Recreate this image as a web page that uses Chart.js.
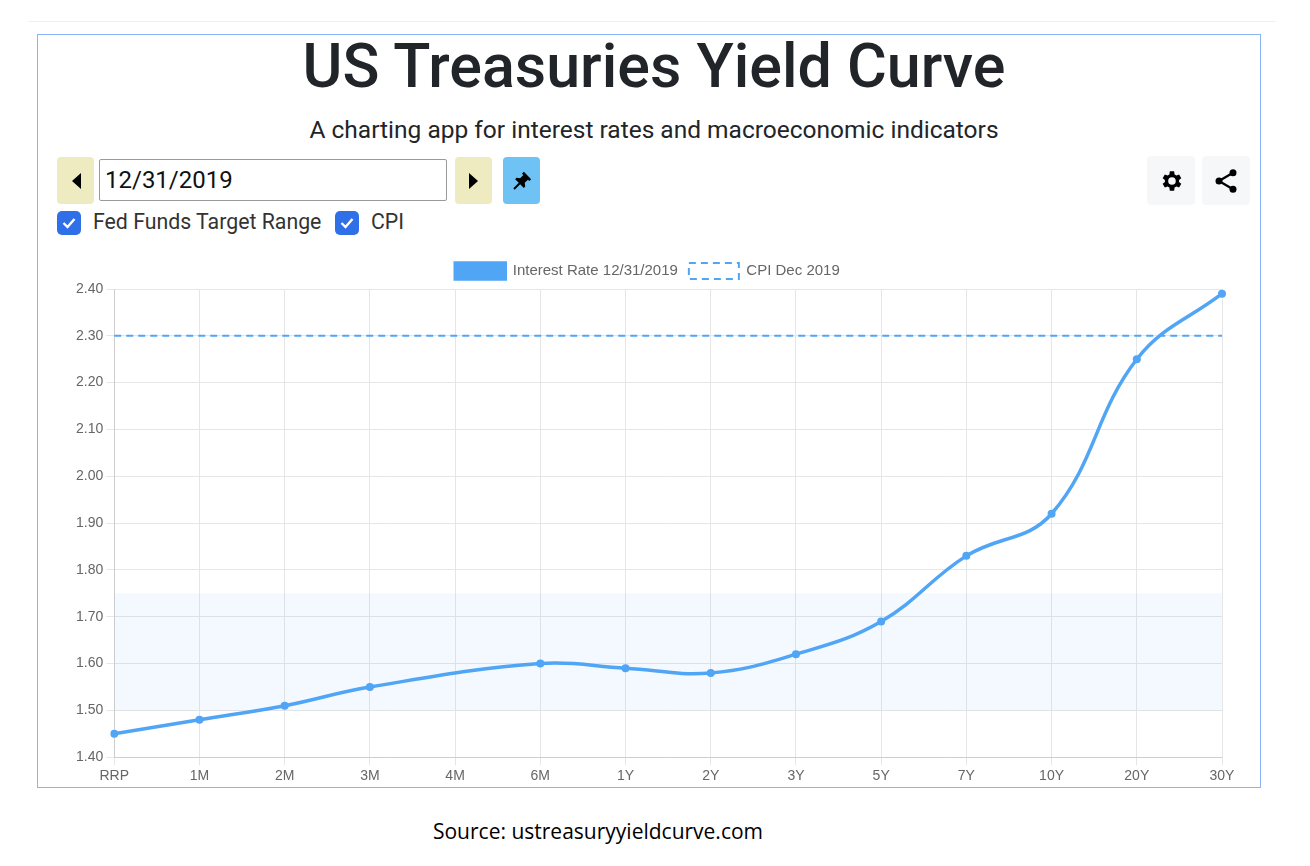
<!DOCTYPE html>
<html lang="en">
<head>
  <meta charset="UTF-8" />
  <title>US Treasuries Yield Curve</title>
  <script src="https://cdn.jsdelivr.net/npm/chart.js"></script>
  <style>
    html, body { margin: 0; padding: 0; background: #fff; }
    body { width: 1310px; height: 866px; position: relative; overflow: hidden; font-family: Roboto, "Noto Sans", sans-serif; }
    .topline { position: absolute; left: 28px; top: 21px; width: 1248px; height: 1px; background: #eef0f2; }
    .frame { position: absolute; left: 37px; top: 34px; width: 1224px; height: 754px; border: 1px solid #8ab4f8; box-sizing: border-box; }
    h1 { position: absolute; left: 0; width: 1308px; top: 30px; margin: 0; text-align: center; font-size: 61px; font-weight: 500; color: #212529; }
    .sub { position: absolute; left: 0; width: 1308px; top: 115px; text-align: center; font-size: 24.5px; color: #212529; }
    .btn { position: absolute; top: 157px; height: 47px; border-radius: 4px; display: flex; align-items: center; justify-content: center; }
    .yellow { background: #efebc0; width: 37px; }
    .pin { background: #6ec3f4; width: 37px; }
    .grey { background: #f6f7f8; width: 48px; top: 156px; height: 49px; }
    .date { position: absolute; left: 99px; top: 159px; width: 348px; height: 42px; border: 1px solid #9a9a9a; border-radius: 2px; box-sizing: border-box; font-size: 24px; color: #111; padding-left: 5px; line-height: 40px; }
    .chk { position: absolute; top: 211px; width: 24px; height: 24px; border-radius: 5px; background: #2f6fe8; display: flex; align-items: center; justify-content: center; }
    .lbl { position: absolute; top: 209px; font-size: 21.3px; color: #333; }
    .chartbox { position: absolute; left: 40px; top: 252px; width: 1220px; height: 538px; }
    .source { position: absolute; left: 0; width: 1196px; top: 817px; text-align: center; font-family: "Open Sans", sans-serif; font-size: 21px; color: #000; }
  </style>
</head>
<body>
  <div class="topline"></div>
  <div class="frame"></div>
  <h1>US Treasuries Yield Curve</h1>
  <div class="sub">A charting app for interest rates and macroeconomic indicators</div>

  <div class="btn yellow" style="left:57px;">
    <svg width="12" height="18" viewBox="0 0 12 18"><path d="M11 1 L2 9 L11 17 Z" fill="#000"/></svg>
  </div>
  <div class="date">12/31/2019</div>
  <div class="btn yellow" style="left:455px;">
    <svg width="12" height="18" viewBox="0 0 12 18"><path d="M1 1 L10 9 L1 17 Z" fill="#000"/></svg>
  </div>
  <div class="btn pin" style="left:503px;">
    <svg width="22" height="22" viewBox="0 0 24 24"><path d="M14 2 L22 10 L20 12 L18.5 10.5 L15 14 L15.5 18 L14 19.5 L10 15.5 L4 21.5 L2.5 20 L8.5 14 L4.5 10 L6 8.5 L10 9 L13.5 5.5 L12 4 Z" fill="#000"/></svg>
  </div>
  <div class="btn grey" style="left:1147px;">
    <svg width="26" height="26" viewBox="0 0 24 24"><path fill="#000" d="M19.4 13a7.6 7.6 0 0 0 0-2l2.1-1.6-2-3.5-2.5 1a7.5 7.5 0 0 0-1.7-1L14.9 3h-4l-.4 2.9a7.5 7.5 0 0 0-1.700 1l-2.5-1-2 3.5L6.4 11a7.6 7.6 0 0 0 0 2l-2.1 1.6 2 3.5 2.5-1c.5.4 1.1.8 1.7 1l.4 2.9h4l.4-2.900c.6-.2 1.2-.6 1.7-1l2.5 1 2-3.5zM12.9 15.5a3.5 3.5 0 1 1 0-7 3.5 3.5 0 0 1 0 7z"/></svg>
  </div>
  <div class="btn grey" style="left:1202px;">
    <svg width="28" height="28" viewBox="0 0 24 24"><g fill="#000"><circle cx="18" cy="5" r="3"/><circle cx="6" cy="12" r="3"/><circle cx="18" cy="19" r="3"/></g><path d="M18 5 L6 12 L18 19" stroke="#000" stroke-width="2" fill="none"/></svg>
  </div>

  <div class="chk" style="left:57px;"><svg width="14" height="12" viewBox="0 0 14 12"><path d="M1.5 6 L5.5 10 L12.5 2" stroke="#fff" stroke-width="2.4" fill="none"/></svg></div>
  <div class="lbl" style="left:93px;">Fed Funds Target Range</div>
  <div class="chk" style="left:335px;"><svg width="14" height="12" viewBox="0 0 14 12"><path d="M1.5 6 L5.5 10 L12.5 2" stroke="#fff" stroke-width="2.4" fill="none"/></svg></div>
  <div class="lbl" style="left:371px;">CPI</div>

  <div class="chartbox"><canvas id="yieldChart"></canvas></div>

  <div class="source">Source: ustreasuryyieldcurve.com</div>

  <script>
    // maturities on the x axis
    const maturities = ["RRP", "1M", "2M", "3M", "4M", "6M", "1Y", "2Y", "3Y", "5Y", "7Y", "10Y", "20Y", "30Y"];
    // yields on 12/31/2019 (no 4M quote that day)
    const yields = [1.45, 1.48, 1.51, 1.55, null, 1.60, 1.59, 1.58, 1.62, 1.69, 1.83, 1.92, 2.25, 2.39];
    const cpiDec2019 = 2.30;
    const fedFundsLow = 1.50;
    const fedFundsHigh = 1.75;
    const yTicks = [1.40, 1.50, 1.60, 1.70, 1.80, 1.90, 2.00, 2.10, 2.20, 2.30, 2.40];

    const blue = "#50a5f5";
    const tickFont = { family: "'Liberation Sans', Arial, sans-serif", size: 14 };

    new Chart(document.getElementById("yieldChart").getContext("2d"), {
      type: "line",
      data: {
        labels: maturities,
        datasets: [
          {
            label: "Interest Rate 12/31/2019",
            data: yields,
            borderColor: blue,
            backgroundColor: blue,
            borderWidth: 3.5,
            pointRadius: 4,
            pointBackgroundColor: blue,
            pointBorderWidth: 0,
            tension: 0.4,
            spanGaps: true,
            fill: false
          },
          {
            label: "CPI Dec 2019",
            data: maturities.map(() => cpiDec2019),
            borderColor: blue,
            backgroundColor: "#ffffff",
            borderWidth: 2,
            borderDash: [7, 5],
            pointRadius: 0,
            fill: false
          },
          {
            label: "ffHigh",
            data: maturities.map(() => fedFundsHigh),
            borderWidth: 0,
            borderColor: "rgba(0,0,0,0)",
            backgroundColor: "rgba(80,165,245,0.07)",
            pointRadius: 0,
            fill: "+1"
          },
          {
            label: "ffLow",
            data: maturities.map(() => fedFundsLow),
            borderWidth: 0,
            borderColor: "rgba(0,0,0,0)",
            pointRadius: 0,
            fill: false
          }
        ]
      },
      options: {
        responsive: true,
        maintainAspectRatio: false,
        animation: false,
        layout: { padding: { left: 33, right: 38, top: 0, bottom: 2 } },
        plugins: {
          tooltip: { enabled: false },
          legend: {
            labels: {
              filter: item => item.datasetIndex < 2,
              boxWidth: 50,
              boxHeight: 16,
              color: "#666",
              padding: 11,
              font: { family: "'Liberation Sans', Arial, sans-serif", size: 15 }
            }
          }
        },
        scales: {
          x: {
            grid: { color: "#e6e6e6" },
            ticks: { color: "#666", font: tickFont }
          },
          y: {
            min: yTicks[0],
            max: yTicks[yTicks.length - 1],
            grid: { color: "#e6e6e6" },
            afterBuildTicks: axis => { axis.ticks = yTicks.map(v => ({ value: v })); },
            ticks: {
              color: "#666",
              font: tickFont,
              callback: v => Number(v).toFixed(2)
            }
          }
        }
      }
    });
  </script>
</body>
</html>
